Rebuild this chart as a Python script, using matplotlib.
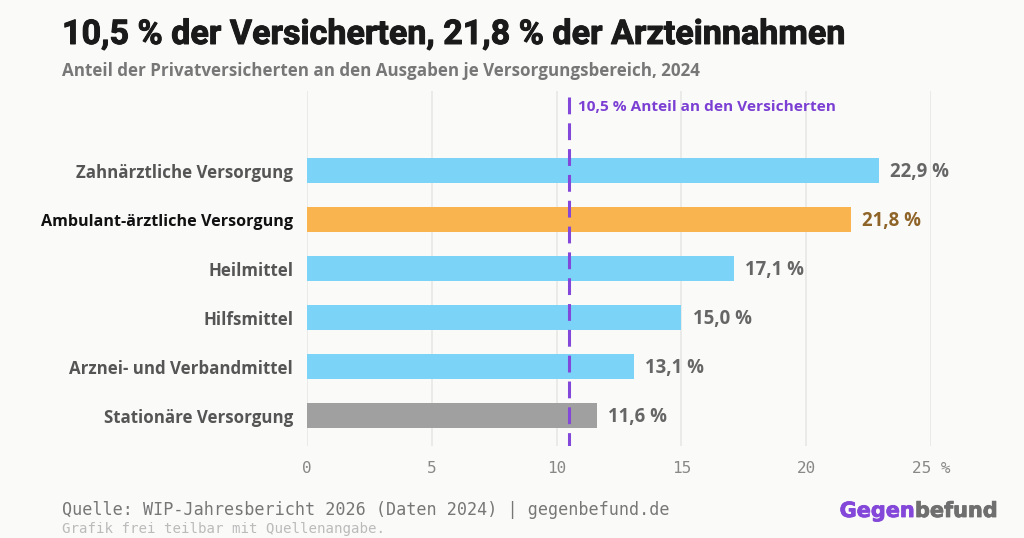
from matplotlib import pyplot as plt
import matplotlib.patheffects as pe

categories = ['Zahnärztliche Versorgung', 'Ambulant-ärztliche Versorgung', 'Heilmittel',
              'Hilfsmittel', 'Arznei- und Verbandmittel', 'Stationäre Versorgung']
values = [22.9, 21.8, 17.1, 15.0, 13.1, 11.6]
value_labels = ['22,9 %', '21,8 %', '17,1 %', '15,0 %', '13,1 %', '11,6 %']
bar_colors = ['#7bd3f7', '#f9b44f', '#7bd3f7', '#7bd3f7', '#7bd3f7', '#a0a0a0']
value_colors = ['#666666', '#8f6428', '#666666', '#666666', '#666666', '#666666']
x_ticks = [0, 5, 10, 15, 20, 25]
x_tick_labels = ['0', '5', '10', '15', '20', '25 %']
reference_share = 10.5

BG = '#fafaf8'
PURPLE = '#7b3fd4'
SANS = 'Open Sans'
MONO = 'DejaVu Sans Mono'
W, H = 1024, 538

fig = plt.figure(figsize=(W / 100, H / 100), dpi=100, facecolor=BG)
# axes spans gridlines in pixels: x 307-931, y 91-446
ax = fig.add_axes([307 / W, 1 - 446 / H, 624 / W, 355 / H], facecolor=BG)
ax.set_xlim(0, 25)
ax.set_ylim(5.622, -1.623)

for s in ax.spines.values():
    s.set_visible(False)
ax.set_axisbelow(True)
ax.grid(axis='x', color='#e6e6e4', linewidth=1.1)

ypos = list(range(len(categories)))
ax.barh(ypos, values, height=25 / 49, color=bar_colors, zorder=2)
ax.plot([reference_share, reference_share], [-1.5, 5.622], color='#8347d9', linewidth=2.2,
        dashes=(5.5, 2.95), dash_capstyle='butt', zorder=3)
ax.annotate('10,5 % Anteil an den Versicherten', (reference_share, -1.33), xytext=(6.5, -1.2),
            textcoords='offset points', va='center', ha='left', color=PURPLE,
            fontsize=11.1, fontweight='bold', family=SANS)

for y, v, lab, c in zip(ypos, values, value_labels, value_colors):
    ax.annotate(lab, (v, y), xytext=(8, -1.2), textcoords='offset points', va='center', ha='left',
                color=c, fontsize=13.4, fontweight='bold', family=SANS, annotation_clip=False)

ax.set_yticks(ypos, categories, family=SANS, fontsize=12.2, fontweight='bold', color='#555555')
ax.get_yticklabels()[1].set_color('#111111')
ax.get_yticklabels()[1].set_fontsize(11.65)
ax.set_xticks(x_ticks, x_tick_labels, family=MONO, fontsize=11.5, color='#888888')
ax.tick_params(axis='both', length=0)
ax.tick_params(axis='x', pad=11)
ax.tick_params(axis='y', pad=10)

def px(x, y):
    return x / W, 1 - y / H

title = fig.text(*px(62, 35), '10,5 % der Versicherten, 21,8 % der Arzteinnahmen', va='center', ha='left',
                 fontsize=24.55, fontweight='bold', family='Roboto', color='#1a1a1a')
# reference title is heavier than Roboto Bold
title.set_path_effects([pe.withStroke(linewidth=0.7, foreground='#1a1a1a')])
fig.text(*px(62, 71), 'Anteil der Privatversicherten an den Ausgaben je Versorgungsbereich, 2024',
         va='center', ha='left', fontsize=12.25, fontweight='bold', family=SANS, color='#777777')
fig.text(*px(62, 510), 'Quelle: WIP-Jahresbericht 2026 (Daten 2024) | gegenbefund.de', va='center', ha='left',
         fontsize=12.1, family=MONO, color='#777777')
fig.text(*px(62, 529), 'Grafik frei teilbar mit Quellenangabe.', va='center', ha='left',
         fontsize=10.2, family=MONO, color='#bbbbbb')
gegen = fig.text(*px(915, 511), 'Gegen', va='center', ha='right', fontsize=15, fontweight='bold',
                 family='DejaVu Sans', color='#8347d9')
befund = fig.text(*px(915, 511), 'befund', va='center', ha='left', fontsize=15, fontweight='bold',
                  family='DejaVu Sans', color='#6f6f6f')
gegen.set_path_effects([pe.withStroke(linewidth=0.6, foreground='#8347d9')])
befund.set_path_effects([pe.withStroke(linewidth=0.6, foreground='#6f6f6f')])

fig.savefig('out.png', dpi=100, facecolor=BG)
